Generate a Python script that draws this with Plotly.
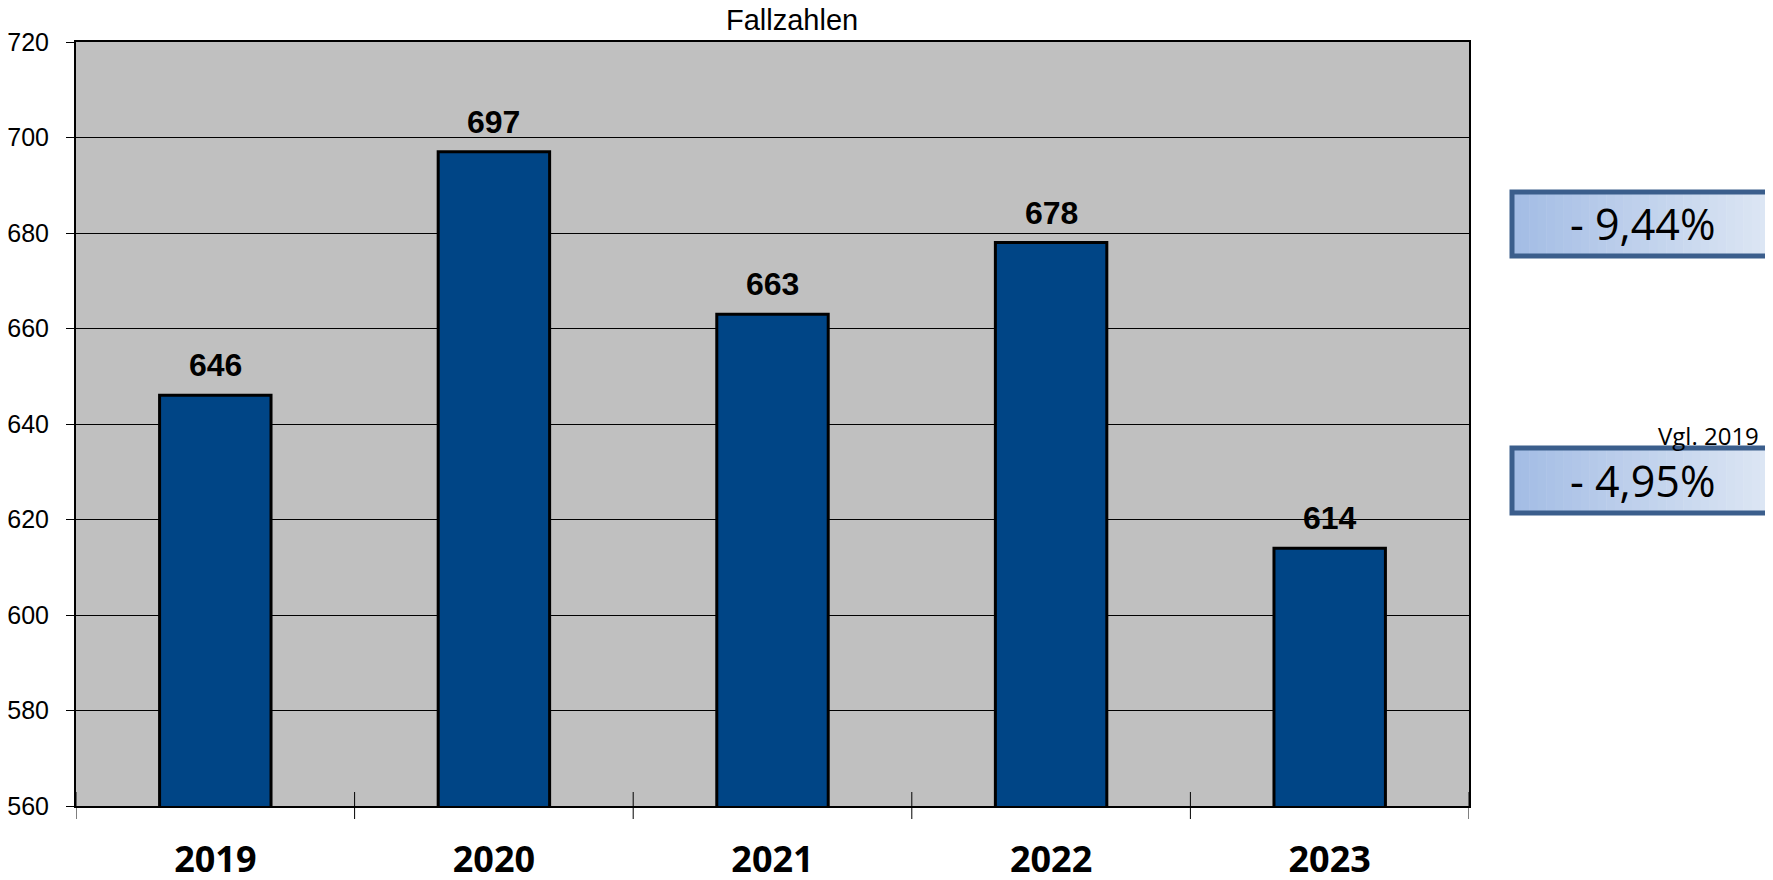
import plotly.graph_objects as go

# ---- data ----
years = ["2019", "2020", "2021", "2022", "2023"]
cases = [646, 697, 663, 678, 614]
chart_title = "Fallzahlen"
change_texts = ["- 9,44%", "- 4,95%"]
compare_label = "Vgl. 2019"

OFF = 8  # default page body margin in the written html
W, H = 1773 - OFF, 880 - OFF
# plot area in screen px
SL, SR, ST, SB = 76, 1469, 42, 806
L, R, T, B = SL - OFF, SR - OFF, ST - OFF, SB - OFF  # in figure px

def px_x(sx):
    return (sx - SL) / (SR - SL)

def px_y(sy):
    return (SB - sy) / (SB - ST)

pos = list(range(len(years)))

fig = go.Figure()
fig.add_trace(go.Bar(
    x=pos, y=cases,
    marker=dict(color="#004586", line=dict(color="black", width=3)),
    width=0.4,
    hoverinfo="skip",
))

annotations = []
for p, v in zip(pos, cases):
    annotations.append(dict(
        x=p, y=v, xref="x", yref="y", text=f"<b>{v}</b>", showarrow=False,
        yanchor="bottom", yshift=10,
        font=dict(family="Liberation Sans, Arial", size=32, color="black"),
    ))

# title
annotations.append(dict(
    x=px_x(792), y=px_y(20), xref="paper", yref="paper", text=chart_title,
    showarrow=False, xanchor="center", yanchor="middle",
    font=dict(family="Liberation Sans, Arial", size=29, color="black"),
))

shapes = []
# x ticks at category boundaries (crossing the axis)
for i in range(len(years) + 1):
    shapes.append(dict(type="line", xref="x", yref="paper",
                       x0=i - 0.5, x1=i - 0.5, y0=px_y(819), y1=px_y(792),
                       line=dict(color="black", width=1)))

# change boxes (gradient approximated with strips), screen px
boxes = [(1512, 1769, 192, 256), (1512, 1769, 448, 513)]
c0 = (164, 189, 229)
c1 = (220, 230, 244)
nstrips = 30
for (x0, x1, y0, y1), txt in zip(boxes, change_texts):
    for k in range(nstrips):
        t = k / (nstrips - 1)
        col = tuple(int(c0[j] + (c1[j] - c0[j]) * t) for j in range(3))
        sx0 = x0 + (x1 - x0) * k / nstrips
        sx1 = x0 + (x1 - x0) * (k + 1) / nstrips + 0.5
        shapes.append(dict(type="rect", xref="paper", yref="paper",
                           x0=px_x(sx0), x1=px_x(sx1), y0=px_y(y1), y1=px_y(y0),
                           fillcolor="rgb(%d,%d,%d)" % col, line=dict(width=0),
                           layer="above"))
    shapes.append(dict(type="rect", xref="paper", yref="paper",
                       x0=px_x(x0), x1=px_x(x1), y0=px_y(y1), y1=px_y(y0),
                       fillcolor="rgba(0,0,0,0)",
                       line=dict(color="#3B5E8C", width=5), layer="above"))
    annotations.append(dict(
        x=px_x(1642), y=px_y((y0 + y1) / 2), xref="paper", yref="paper",
        text=txt, showarrow=False, xanchor="center", yanchor="middle",
        font=dict(family="Open Sans", size=43, color="black"),
    ))

annotations.append(dict(
    x=px_x(1761), y=px_y(435), xref="paper", yref="paper", text=compare_label,
    showarrow=False, xanchor="right", yanchor="middle",
    font=dict(family="Open Sans", size=24, color="black"),
))

fig.update_layout(
    width=W, height=H,
    margin=dict(l=L, r=W - R, t=T, b=H - B, pad=0, autoexpand=False),
    paper_bgcolor="white",
    plot_bgcolor="#C0C0C0",
    showlegend=False,
    annotations=annotations,
    shapes=shapes,
    xaxis=dict(
        range=[-0.5, len(years) - 0.5],
        tickmode="array", tickvals=pos, ticktext=years,
        ticks="", automargin=False,
        showline=True, linecolor="black", linewidth=2, mirror=True,
        showgrid=False, zeroline=False,
        tickfont=dict(family="Open Sans", size=36, color="black", weight="bold"),
        ticklabelstandoff=21,
    ),
    yaxis=dict(
        range=[560, 720], dtick=20, tick0=560, automargin=False,
        ticks="outside", ticklen=8, tickwidth=1, tickcolor="black",
        showline=True, linecolor="black", linewidth=2, mirror=True,
        showgrid=True, gridcolor="black", gridwidth=1,
        zeroline=False,
        tickfont=dict(family="Liberation Sans, Arial", size=25, color="black"),
        ticklabelstandoff=12,
    ),
)

fig.write_html("out.html")
